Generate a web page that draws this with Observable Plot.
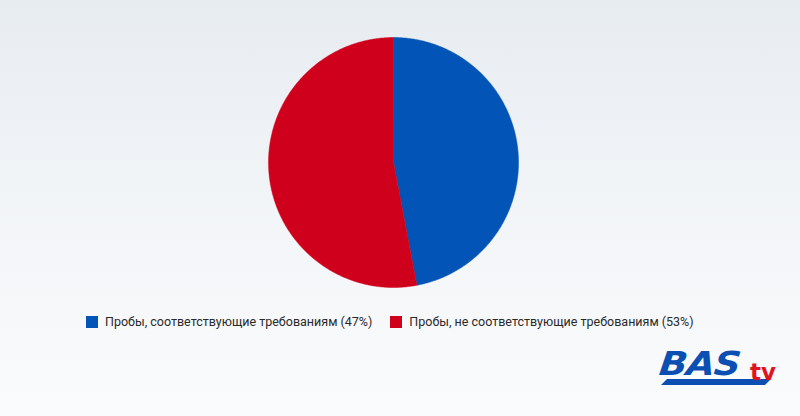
<!DOCTYPE html>
<html>
<head>
<meta charset="utf-8">
<script src="https://cdn.jsdelivr.net/npm/d3@7"></script>
<script src="https://cdn.jsdelivr.net/npm/@observablehq/plot@0.6"></script>
<style>
  html, body { margin: 0; padding: 0; }
  body {
    width: 800px; height: 416px; overflow: hidden; position: relative;
    background: linear-gradient(180deg, #e7ecf1 0%, #f1f4f7 45%, #fafbfc 100%);
    font-family: Roboto, "Liberation Sans", sans-serif;
  }
  #chart { position: absolute; left: 0; top: 0; }
  #legend {
    position: absolute; left: 86px; top: 314px; display: flex; align-items: center;
    font-size: 12.5px; color: #2a2a2a; white-space: nowrap;
  }
  .item { display: flex; align-items: center; margin-right: 18px; }
  .sw { width: 12px; height: 12px; margin-right: 7px; }
  #logo {
    position: absolute; left: 660px; top: 346px; width: 120px; height: 44px;
  }
  #logo .bas {
    position: absolute; left: 2px; top: -2px; font-family: "DejaVu Sans", sans-serif;
    font-weight: 900; font-style: italic; font-size: 33px; color: #0b4fb3; letter-spacing: -1px;
    transform-origin: left top; transform: scaleX(1.12) skewX(-6deg);
  }
  #logo .tv {
    position: absolute; left: 90px; top: 13px; font-family: "DejaVu Sans", sans-serif;
    font-weight: bold; font-size: 23px; color: #e0141e;
  }
  #logo .bar {
    position: absolute; left: 4px; top: 33px; width: 104px; height: 6px; background: #0b4fb3;
    transform: skewX(-45deg);
  }
</style>
</head>
<body>
<div id="chart"></div>
<div id="legend"></div>
<div id="logo"><div class="bar"></div><div class="bas">BAS</div><div class="tv">tv</div></div>
<script>
const categories = ["Пробы, соответствующие требованиям (47%)", "Пробы, не соответствующие требованиям (53%)"];
const values = [47, 53];
const colors = ["#0255b6", "#cf001b"];

const pie = d3.pie().sort(null).value(d => d.value);
const arcs = pie(categories.map((c, i) => ({category: c, value: values[i]})));

// Build slice outlines (center + arc samples) in unit coordinates
const pts = [];
arcs.forEach(a => {
  const n = Math.max(2, Math.ceil((a.endAngle - a.startAngle) / 0.01));
  pts.push({category: a.data.category, x: 0, y: 0});
  for (let k = 0; k <= n; k++) {
    const t = a.startAngle + (a.endAngle - a.startAngle) * k / n;
    pts.push({category: a.data.category, x: Math.sin(t), y: Math.cos(t)});
  }
  pts.push({category: a.data.category, x: 0, y: 0});
});

const chart = Plot.plot({
  width: 800,
  height: 300,
  marginLeft: 268,
  marginRight: 282,
  marginTop: 37,
  marginBottom: 13,
  x: {domain: [-1, 1], axis: null},
  y: {domain: [-1, 1], axis: null},
  color: {domain: categories, range: colors},
  style: {background: "transparent"},
  marks: [
    Plot.line(pts, {x: "x", y: "y", z: "category", fill: "category", stroke: "category", strokeWidth: 0.5, curve: "linear"})
  ]
});
document.getElementById("chart").appendChild(chart);

const legend = document.getElementById("legend");
categories.forEach((c, i) => {
  const item = document.createElement("div");
  item.className = "item";
  const sw = document.createElement("div");
  sw.className = "sw";
  sw.style.background = colors[i];
  const label = document.createElement("span");
  label.textContent = c;
  item.appendChild(sw);
  item.appendChild(label);
  legend.appendChild(item);
});
</script>
</body>
</html>
